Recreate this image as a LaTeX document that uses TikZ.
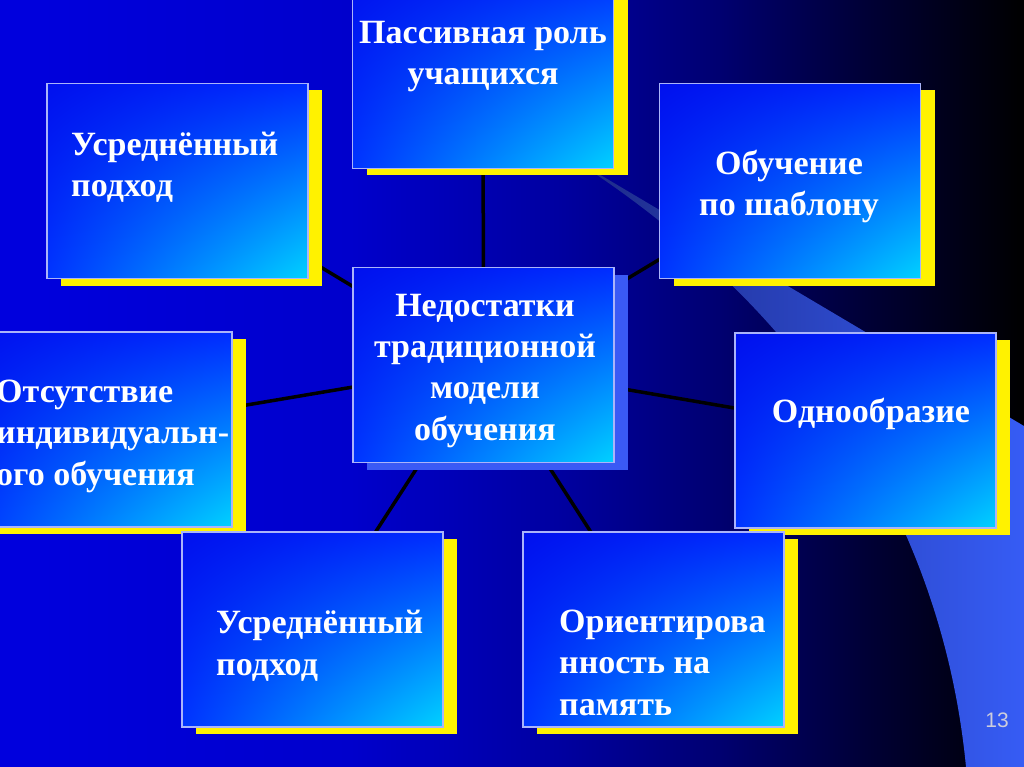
\documentclass[tikz,border=0pt]{standalone}
\usepackage{fontspec}
\setmainfont{Liberation Serif}
\newfontfamily\pagenumfont{Liberation Sans}
\usetikzlibrary{shadows,shadings}
\pgfdeclarelayer{backdrop}
\pgfdeclarelayer{edges}
\pgfsetlayers{backdrop,edges,main}
\definecolor{bgA}{RGB}{0,0,222}
\definecolor{bgB}{RGB}{0,0,204}
\definecolor{bgC}{RGB}{0,0,160}
\definecolor{bgD}{RGB}{0,0,112}
\definecolor{bgE}{RGB}{0,0,56}
\definecolor{bgF}{RGB}{0,0,0}
\definecolor{bandA}{RGB}{28,40,130}
\definecolor{bandB}{RGB}{54,92,245}
\definecolor{boxUL}{RGB}{0,16,238}
\definecolor{boxUR}{RGB}{0,44,255}
\definecolor{boxLL}{RGB}{0,52,255}
\definecolor{boxLR}{RGB}{0,210,255}
\definecolor{boxline}{RGB}{170,180,250}
\definecolor{coreshadow}{RGB}{58,90,245}
\definecolor{pagenum}{RGB}{205,205,220}
\begin{document}
\begin{tikzpicture}[x=1pt,y=-1pt,
  panel/.style={shade, upper left=boxUL, upper right=boxUR,
    lower left=boxLL, lower right=boxLR, draw=boxline, line width=1.2pt,
    minimum width=261pt, minimum height=195pt, inner sep=0pt},
  yshadow/.style={general shadow={fill=yellow, draw=none,
    shadow xshift=14pt, shadow yshift=-7pt}},
  bshadow/.style={general shadow={fill=coreshadow, draw=none,
    shadow xshift=14pt, shadow yshift=-7pt}},
  caption/.style={text=white, inner sep=0pt,
    font=\fontsize{34pt}{41.3pt}\selectfont\bfseries},
  link/.style={draw=black, line width=3.5pt}]

% background
\begin{pgfonlayer}{backdrop}
  \shade[left color=bgA, right color=bgB] (0,0) rectangle (351,767);
  \shade[left color=bgB, right color=bgC] (350,0) rectangle (561,767);
  \shade[left color=bgC, right color=bgD] (560,0) rectangle (721,767);
  \shade[left color=bgD, right color=bgE] (720,0) rectangle (861,767);
  \shade[left color=bgE, right color=bgF] (860,0) rectangle (1024,767);
  \shade[left color=bandA, right color=bandB]
    (560,151) -- (1024,426) -- (1024,767) -- (966,767)
    .. controls (942,517) and (800,300) .. (560,151) -- cycle;
\end{pgfonlayer}

% boxes
\node[panel, yshadow] (pass) at (483,71) {};
\node[panel, yshadow] (avgA) at (177.5,181) {};
\node[panel, yshadow] (shab) at (790,181) {};
\node[panel, bshadow] (core) at (483.5,365) {};
\node[panel, yshadow] (abs)  at (101.5,429.5) {};
\node[panel, yshadow] (odn)  at (865.5,430.5) {};
\node[panel, yshadow] (avgB) at (312.5,629.5) {};
\node[panel, yshadow] (ori)  at (653.5,629.5) {};

% texts (base anchor = baseline of the last line)
\node[caption, align=center, anchor=base] (tpass) at (483,85) {Пассивная роль\\учащихся};
\node[caption, align=left, anchor=base west] (tavgA) at (71,197) {Усреднённый\\подход};
\node[caption, align=center, anchor=base] (tshab) at (789,216) {Обучение\\по шаблону};
\node[caption, align=center, anchor=base] (tcore) at (485,440) {Недостатки\\традиционной\\модели\\обучения};
\node[caption, align=left, anchor=base west] (tabs) at (-4,485) {Отсутствие\\индивидуальн-\\ого обучения};
\node[caption, anchor=base] (todn) at (871,422) {Однообразие};
\node[caption, align=left, anchor=base west] (tavgB) at (216,675) {Усреднённый\\подход};
\node[caption, align=left, anchor=base west] (tori) at (559,715) {Ориентирова\\нность на\\память};
\node[text=pagenum, inner sep=0pt, font=\pagenumfont\fontsize{21pt}{24pt}\selectfont] (pnum) at (997,720) {13};

% connectors
\begin{pgfonlayer}{edges}
  \draw[link] (core.center) -- (pass.center);
  \draw[link] (core.center) -- (avgA.center);
  \draw[link] (core.center) -- (shab.center);
  \draw[link] (core.center) -- (abs.center);
  \draw[link] (core.center) -- (odn.center);
  \draw[link] (core.center) -- (avgB.center);
  \draw[link] (core.center) -- (ori.center);
\end{pgfonlayer}

\pgfresetboundingbox
\useasboundingbox (0,0) rectangle (1024,767);
\end{tikzpicture}
\end{document}
